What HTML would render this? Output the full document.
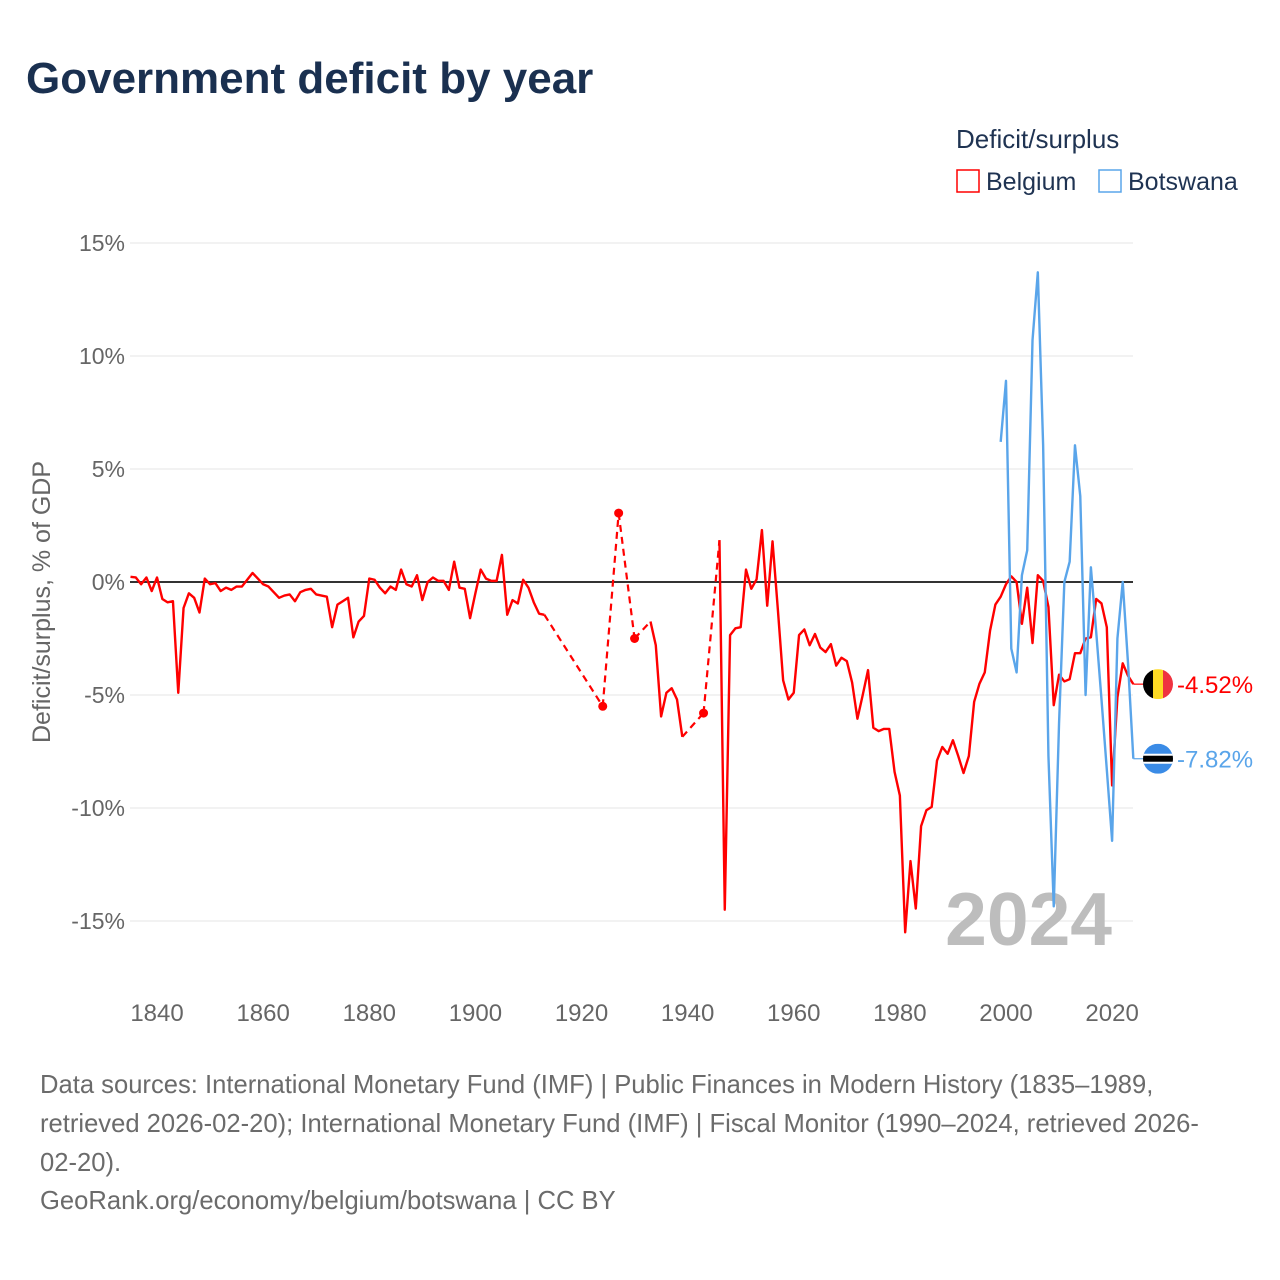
<!DOCTYPE html>
<html><head><meta charset="utf-8"><style>
body{margin:0;background:#fff;font-family:"Liberation Sans",sans-serif;}
#wrap{position:relative;width:1280px;height:1280px;overflow:hidden;}
</style></head><body>
<div id="wrap">
<svg id="chart" width="1280" height="1280" xmlns="http://www.w3.org/2000/svg">
<text x="26" y="93" font-size="44" font-weight="bold" fill="#1a3050">Government deficit by year</text>
<text x="956" y="148" font-size="26" fill="#1f3352">Deficit/surplus</text>
<g><rect x="957" y="170" width="22" height="22" fill="none" stroke="#ff0000" stroke-width="1.5"/><text x="986" y="190" font-size="25" fill="#1f3352">Belgium</text></g>
<g><rect x="1099" y="170" width="22" height="22" fill="none" stroke="#5aa5ea" stroke-width="1.5"/><text x="1128" y="190" font-size="25" fill="#1f3352">Botswana</text></g>
<text transform="translate(50,602) rotate(-90)" text-anchor="middle" font-size="25" fill="#666">Deficit/surplus, % of GDP</text>
<g id="grid"></g><g id="yt"></g><g id="xt"></g>
<text x="1112" y="945" text-anchor="end" font-size="75" font-weight="bold" fill="#bdbdbd">2024</text>
<g id="series"></g>
<g font-size="25.6" fill="#6b6b6b">
<text x="40" y="1093">Data sources: International Monetary Fund (IMF) | Public Finances in Modern History (1835–1989,</text>
<text x="40" y="1132">retrieved 2026-02-20); International Monetary Fund (IMF) | Fiscal Monitor (1990–2024, retrieved 2026-</text>
<text x="40" y="1171">02-20).</text>
<text x="40" y="1209">GeoRank.org/economy/belgium/botswana | CC BY</text>
</g>
</svg></div>
<script>
const yTicks=[15,10,5,0,-5,-10,-15];
const xTicks=[1840,1860,1880,1900,1920,1940,1960,1980,2000,2020];
const belgiumStart=1835;
const belgiumValues=[0.23,0.2,-0.1,0.2,-0.4,0.2,-0.75,-0.9,-0.85,-4.9,-1.15,-0.5,-0.7,-1.35,0.15,-0.1,-0.05,-0.4,-0.25,-0.35,-0.2,-0.2,0.1,0.4,0.15,-0.1,-0.2,-0.45,-0.7,-0.6,-0.55,-0.85,-0.45,-0.35,-0.3,-0.55,-0.6,-0.65,-2.0,-1.0,-0.85,-0.7,-2.45,-1.75,-1.5,0.15,0.1,-0.25,-0.5,-0.2,-0.35,0.55,-0.1,-0.2,0.3,-0.8,0.0,0.2,0.05,0.05,-0.35,0.9,-0.25,-0.3,-1.6,-0.5,0.55,0.15,0.05,0.05,1.2,-1.45,-0.8,-0.95,0.1,-0.25,-0.9,-1.4,-1.45,
null,null,null,null,null,null,null,null,null,null,-5.5,null,null,3.05,null,null,-2.5,null,null,-1.75,-2.8,-5.95,-4.9,-4.7,-5.2,-6.85,null,null,null,-5.8,null,null,1.85,-14.5,-2.35,-2.05,-2.0,0.55,-0.3,0.12,2.3,-1.05,1.8,-1.2,-4.35,-5.2,-4.9,-2.35,-2.1,-2.8,-2.3,-2.9,-3.1,-2.75,-3.7,-3.35,-3.5,-4.45,-6.05,-5.0,-3.9,-6.45,-6.6,-6.5,-6.5,-8.4,-9.45,-15.5,-12.35,-14.45,-10.8,-10.1,-9.95,-7.9,-7.3,-7.6,-7.0,-7.7,-8.45,-7.7,-5.3,-4.5,-4.0,-2.15,-1.0,-0.65,-0.1,0.25,0.0,-1.85,-0.25,-2.7,0.3,0.05,-1.1,-5.45,-4.1,-4.4,-4.3,-3.15,-3.15,-2.5,-2.45,-0.75,-0.95,-2.0,-9.0,-5.1,-3.6,-4.15,-4.52];
const botswanaStart=1999;
const botswanaValues=[6.2,8.9,-2.95,-4.0,0.3,1.4,10.7,13.7,6.05,-7.7,-14.35,-6.25,0.0,0.9,6.05,3.8,-5.0,0.65,-2.2,-5.2,-8.3,-11.45,-2.5,0.0,-3.6,-7.82];
const X0=130.5,PX_YEAR=5.306,Y0=582,PX_PCT=22.6;
const xs=y=>X0+(y-1835)*PX_YEAR, ys=v=>Y0-v*PX_PCT;
const NS="http://www.w3.org/2000/svg";
function mk(t,a,p){const e=document.createElementNS(NS,t);for(const k in a)e.setAttribute(k,a[k]);p.appendChild(e);return e;}
const grid=document.getElementById('grid'),yt=document.getElementById('yt'),xt=document.getElementById('xt'),ser=document.getElementById('series');
yTicks.forEach(v=>{
 const l=mk('line',{x1:130,x2:1133,y1:ys(v),y2:ys(v),stroke:v===0?'#333':'#e6e6e6','stroke-width':v===0?2:1},grid);
 
 
 const t=mk('text',{x:125,y:ys(v)+8,'text-anchor':'end','font-size':23,fill:'#666'},yt);
 t.textContent=v+'%';
 
 
});
xTicks.forEach(y=>{
 const t=mk('text',{x:xs(y),y:1021,'text-anchor':'middle','font-size':24,fill:'#666'},xt);
 t.textContent=y;
 
 
});
function drawSeries(start,vals,color,name){
 const g=mk('g',{},ser);
 
 
 let seg=[],segs=[],pts=[];
 vals.forEach((v,i)=>{if(v===null){if(seg.length)segs.push(seg);seg=[];}else{seg.push([xs(start+i),ys(v)]);pts.push([xs(start+i),ys(v)]);}});
 if(seg.length)segs.push(seg);
 for(let i=0;i<segs.length-1;i++){const a=segs[i][segs[i].length-1],b=segs[i+1][0];
  const d=mk('line',{x1:a[0],y1:a[1],x2:b[0],y2:b[1],stroke:color,'stroke-width':2.2,'stroke-dasharray':'7,5'},g);
  
  }
 segs.forEach(s=>{if(s.length===1){const c=mk('circle',{cx:s[0][0],cy:s[0][1],r:4.5,fill:color},g);
   
   }
  else{const p=mk('polyline',{points:s.map(q=>q.join(',')).join(' '),fill:'none',stroke:color,'stroke-width':2.4,'stroke-linejoin':'round'},g);
   
   }});
 return pts[pts.length-1];
}
const bl=drawSeries(belgiumStart,belgiumValues,'#ff0000','belgium');
const bw=drawSeries(botswanaStart,botswanaValues,'#5aa5ea','botswana');
function endLabel(p,color,label,name,flag){
 const g=mk('g',{},ser);
 
 
 mk('line',{x1:p[0],y1:p[1],x2:1145,y2:p[1],stroke:color,'stroke-width':1.2},g);
 const cx=1158,cy=p[1],r=15;
 const cp=mk('clipPath',{id:'c'+name},g);mk('circle',{cx,cy,r},cp);
 const fg=mk('g',{'clip-path':'url(#c'+name+')'},g);
 flag(fg,cx,cy,r);
 const t=mk('text',{x:1177,y:cy+9,'font-size':24,fill:color},g);t.textContent=label;
}
endLabel(bl,'#ff0000','-4.52%','belgium',(g,cx,cy,r)=>{
 mk('rect',{x:cx-r,y:cy-r,width:10,height:2*r,fill:'#000'},g);
 mk('rect',{x:cx-r+10,y:cy-r,width:10,height:2*r,fill:'#fdda24'},g);
 mk('rect',{x:cx-r+20,y:cy-r,width:10,height:2*r,fill:'#ef3340'},g);});
endLabel(bw,'#5aa5ea','-7.82%','botswana',(g,cx,cy,r)=>{
 mk('rect',{x:cx-r,y:cy-r,width:2*r,height:2*r,fill:'#3a8be6'},g);
 mk('rect',{x:cx-r,y:cy-5,width:2*r,height:10,fill:'#fff'},g);
 mk('rect',{x:cx-r,y:cy-3,width:2*r,height:6,fill:'#000'},g);});
</script>
</body></html>
